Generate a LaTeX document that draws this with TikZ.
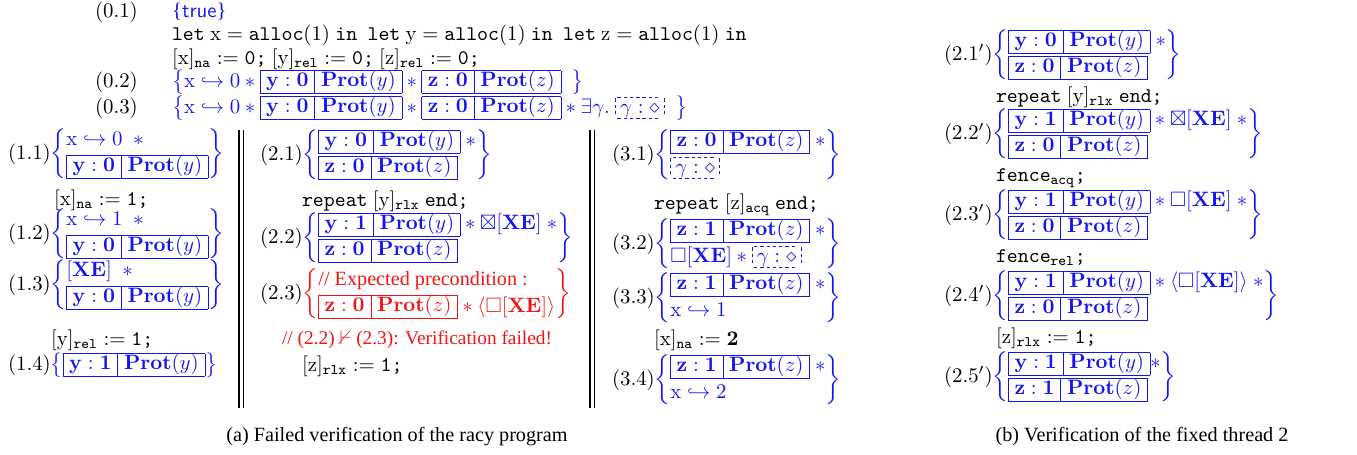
\documentclass[tikz,border=0pt]{standalone}
\usepackage{amsmath,amssymb}
\usepackage[no-math]{fontspec}
\setmainfont{Liberation Serif}
\setsansfont{Latin Modern Sans}
\setmonofont{Latin Modern Mono}
\definecolor{cblue}{RGB}{20,20,240}
\definecolor{cred}{RGB}{240,20,20}
\newdimen\dbht
\newcommand\gb[2]{\mbox{\def\arraystretch{0.82}\setlength\tabcolsep{3pt}\begin{tabular}{|c|c|}\hline$#1$&$#2$\\\hline\end{tabular}}}
\newcommand\yb[1]{\gb{\mathbf{y}:\mathbf{#1}}{\mathbf{Prot}(y)}}
\newcommand\zb[1]{\gb{\mathbf{z}:\mathbf{#1}}{\mathbf{Prot}(z)}}
\newcommand\dashedbox[1]{\mbox{%
  \setbox0=\hbox{\vrule width 0pt height 7.4pt depth 2.2pt\kern2pt$#1$\kern2pt}%
  \dimen0=\dp0 \advance\dimen0 by 0.4pt
  \setbox4=\hbox to \wd0{\leaders\hbox to 3pt{\hss\vrule height .4pt depth 0pt width 1.6pt\hss}\hfill}%
  \setbox6=\vbox{\offinterlineskip\copy4\box0\copy4}%
  \dbht=\ht6
  \setbox2=\vbox to \dbht{\leaders\vbox to 3pt{\vss\hrule width .4pt height 1.6pt\vss}\vfill}%
  \lower\dimen0\hbox{\copy2\box6\copy2}}}
\newcommand\asn[1]{\biggl\{\begin{array}{@{}l@{}}#1\end{array}\biggr\}}
\newcommand\nl{\\[0.6pt]}
\newcommand\Rx{\mathrm{x}}
\newcommand\XE{[\mathbf{XE}]}
\newcommand\cd[1]{\texttt{#1}}
\newcommand\tms{\fontsize{9.3}{11}\selectfont}
\newcommand\tmb{\fontsize{9.7}{11}\selectfont}
\begin{document}
\begin{tikzpicture}[x=0.48pt,y=-0.48pt,
  every node/.style={inner sep=0pt,outer sep=0pt},
  lab/.style={anchor=west},
  txt/.style={anchor=west},
  sep/.style={line width=0.5pt}]
\useasboundingbox (0,0) rectangle (1357,455);
% top part
\node[lab] (l01) at (95,12) {$(0.1)$};
\node[txt,text=cblue] (t01) at (172,12) {\{\textsf{true}\}};
\node[txt] (let) at (172,35) {\cd{let} $\Rx = \cd{alloc}(1)$ \cd{in}\ \ \cd{let} $\mathrm{y} = \cd{alloc}(1)$ \cd{in}\ \ \cd{let} $\mathrm{z} = \cd{alloc}(1)$ \cd{in}};
\node[txt] (init) at (172,59) {$[\Rx]_{\cd{na}} := \cd{0;}\ [\mathrm{y}]_{\cd{rel}} := \cd{0;}\ [\mathrm{z}]_{\cd{rel}} := \cd{0;}$};
\node[lab] (l02) at (95,82) {$(0.2)$};
\node[txt,text=cblue] (a02) at (172,82) {$\bigl\{\Rx\hookrightarrow 0 * \yb{0} * \zb{0}\ \ \bigr\}$};
\node[lab] (l03) at (95,108) {$(0.3)$};
\node[txt,text=cblue] (a03) at (172,108) {$\bigl\{\Rx\hookrightarrow 0 * \yb{0} * \zb{0} * \exists\gamma.\ \dashedbox{\gamma:\diamond}\ \ \bigr\}$};
% separators
\draw[sep] (239,130) -- (239,408);
\draw[sep] (243.5,130) -- (243.5,408);
\draw[sep] (590,130) -- (590,408);
\draw[sep] (594.5,130) -- (594.5,408);
% thread 1
\node[lab] (a11) at (8,154) {$(1.1)\color{cblue}\asn{\Rx\hookrightarrow 0\ \ * \nl \yb{0}}$};
\node[txt] (c11) at (54,200) {$[\Rx]_{\cd{na}} := \cd{1;}$};
\node[lab] (a12) at (8,234) {$(1.2)\color{cblue}\asn{\Rx\hookrightarrow 1\ \ * \nl \yb{0}}$};
\node[lab] (a13) at (8,285) {$(1.3)\color{cblue}\asn{\XE\ \ * \nl \yb{0}}$};
\node[txt] (c13) at (51,340) {$[\mathrm{y}]_{\cd{rel}} := \cd{1;}$};
\node[lab] (a14) at (8,365) {$(1.4)\color{cblue}\bigl\{\yb{1}\bigr\}$};
% thread 2
\node[lab] (a21) at (260,155) {$(2.1)\color{cblue}\asn{\yb{0}\ * \nl \zb{0}}$};
\node[txt] (c21) at (302,201) {\cd{repeat} $[\mathrm{y}]_{\cd{rlx}}$ \cd{end;}};
\node[lab] (a22) at (260,238) {$(2.2)\color{cblue}\asn{\yb{1} * \boxtimes\XE\ * \nl \zb{0}}$};
\node[lab] (a23) at (260,294) {$(2.3)\color{cred}\asn{\text{\tmb // Expected precondition :} \nl \zb{0} * \langle\Box\XE\rangle}$};
\node[txt,text=cred] (f23) at (282,340) {\tms // (2.2) $\nvdash$ (2.3): Verification failed!};
\node[txt] (c23) at (302,366) {$[\mathrm{z}]_{\cd{rlx}} := \cd{1;}$};
% thread 3
\node[lab] (a31) at (612,155) {$(3.1)\color{cblue}\asn{\zb{0}\ * \nl \dashedbox{\gamma:\diamond}}$};
\node[txt] (c31) at (654,205) {\cd{repeat} $[\mathrm{z}]_{\cd{acq}}$ \cd{end;}};
\node[lab] (a32) at (612,244) {$(3.2)\color{cblue}\asn{\zb{1}\ * \nl \Box\XE * \dashedbox{\gamma:\diamond}}$};
\node[lab] (a33) at (612,298) {$(3.3)\color{cblue}\asn{\zb{1}\ * \nl \Rx\hookrightarrow 1}$};
\node[txt] (c33) at (654,340) {$[\Rx]_{\cd{na}} := \mathbf{2}$};
\node[lab] (a34) at (612,380) {$(3.4)\color{cblue}\asn{\zb{1}\ * \nl \Rx\hookrightarrow 2}$};
% figure b
\node[lab] (b1) at (944,55) {$(2.1')\color{cblue}\asn{\yb{0}\ * \nl \zb{0}}$};
\node[txt] (d1) at (996,97) {\cd{repeat} $[\mathrm{y}]_{\cd{rlx}}$ \cd{end;}};
\node[lab] (b2) at (944,134) {$(2.2')\color{cblue}\asn{\yb{1} * \boxtimes\XE\ * \nl \zb{0}}$};
\node[txt] (d2) at (996,178) {$\cd{fence}_{\cd{acq}}\cd{;}$};
\node[lab] (b3) at (944,215) {$(2.3')\color{cblue}\asn{\yb{1} * \Box\XE\ * \nl \zb{0}}$};
\node[txt] (d3) at (996,258) {$\cd{fence}_{\cd{rel}}\cd{;}$};
\node[lab] (b4) at (944,296) {$(2.4')\color{cblue}\asn{\yb{1} * \langle\Box\XE\rangle\ * \nl \zb{0}}$};
\node[txt] (d4) at (996,338) {$[\mathrm{z}]_{\cd{rlx}} := \cd{1;}$};
\node[lab] (b5) at (944,377) {$(2.5')\color{cblue}\asn{\yb{1}{*} \nl \zb{1}}$};
% captions
\node (capa) at (397,437) {\tmb (a) Failed verification of the racy program};
\node (capb) at (1142,437) {\tmb (b) Verification of the fixed thread 2};
\end{tikzpicture}
\end{document}
